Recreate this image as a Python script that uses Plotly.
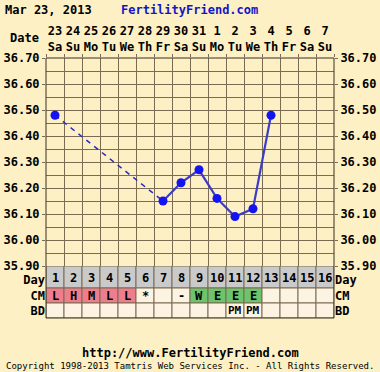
import plotly.graph_objects as go

# ---- data ----
title_date = "Mar 23, 2013"
site_name = "FertilityFriend.com"
cycle_days = list(range(1, 17))
dates = ["23", "24", "25", "26", "27", "28", "29", "30", "31", "1", "2", "3", "4", "5", "6", "7"]
weekdays = ["Sa", "Su", "Mo", "Tu", "We", "Th", "Fr", "Sa", "Su", "Mo", "Tu", "We", "Th", "Fr", "Sa", "Su"]
temp_days = [1, 7, 8, 9, 10, 11, 12, 13]
temps = [36.48, 36.15, 36.22, 36.27, 36.16, 36.09, 36.12, 36.48]
y_ticks = [35.90, 36.00, 36.10, 36.20, 36.30, 36.40, 36.50, 36.60, 36.70]
cm_values = ["L", "H", "M", "L", "L", "*", "", "-", "W", "E", "E", "E", "", "", "", ""]
cm_kind = ["m", "m", "m", "m", "m", "", "", "", "f", "f", "f", "f", "", "", "", ""]
bd_values = ["", "", "", "", "", "", "", "", "", "", "PM", "PM", "", "", "", ""]
row_labels = ["Day", "CM", "BD"]

BG = "#FDF0C4"
GRID = "#7A6B52"
FONT = "DejaVu Sans Mono"
PINK = "#EE7E8E"
GREEN = "#6CC46C"
GRAY = "#CACACA"
CREAM = "#FDF3E2"

fig = go.Figure()

# dashed gap line (day 1 -> day 7)
fig.add_trace(go.Scatter(x=temp_days[:2], y=temps[:2], mode="lines",
                         line=dict(color="#2A2ABF", width=1.5, dash="5px,5px"),
                         xaxis="x", yaxis="y", hoverinfo="skip"))
# solid consecutive line
fig.add_trace(go.Scatter(x=temp_days[1:], y=temps[1:], mode="lines",
                         line=dict(color="#3C3CC8", width=2.2),
                         xaxis="x", yaxis="y"))
# markers
fig.add_trace(go.Scatter(x=temp_days, y=temps, mode="markers",
                         marker=dict(color="#1414F0", size=9),
                         xaxis="x", yaxis="y"))

# ---- table rows (y2 in pixel-like units) ----
rows = {"BD": (0, 15), "CM": (15, 30), "Day": (30, 52)}
shapes = []
annots = []
for i, d in enumerate(cycle_days):
    x0, x1 = d - 0.5, d + 0.5
    shapes.append(dict(type="rect", xref="x2", yref="y2", x0=x0, x1=x1,
                       y0=rows["Day"][0], y1=rows["Day"][1],
                       fillcolor=GRAY, line=dict(color=GRID, width=1), layer="below"))
    annots.append(dict(x=d, y=sum(rows["Day"]) / 2 - 1, xref="x2", yref="y2", text="<b>%d</b>" % d,
                       showarrow=False, font=dict(family=FONT, size=12, color="#000")))
    k = cm_kind[i]
    fill = PINK if k == "m" else (GREEN if k == "f" else CREAM)
    shapes.append(dict(type="rect", xref="x2", yref="y2", x0=x0, x1=x1,
                       y0=rows["CM"][0], y1=rows["CM"][1],
                       fillcolor=fill, line=dict(color=GRID, width=1), layer="below"))
    if cm_values[i]:
        annots.append(dict(x=d, y=sum(rows["CM"]) / 2, xref="x2", yref="y2", text="<b>%s</b>" % cm_values[i],
                           showarrow=False, font=dict(family=FONT, size=12, color="#000")))
    shapes.append(dict(type="rect", xref="x2", yref="y2", x0=x0, x1=x1,
                       y0=rows["BD"][0], y1=rows["BD"][1],
                       fillcolor=CREAM, line=dict(color=GRID, width=1), layer="below"))
    if bd_values[i]:
        annots.append(dict(x=d, y=sum(rows["BD"]) / 2, xref="x2", yref="y2", text="<b>%s</b>" % bd_values[i],
                           showarrow=False, font=dict(family=FONT, size=11, color="#000")))

# header texts (positions in pixels from bottom-left, converted below)
annots.append(dict(x=3, y=362, xref="paper", yref="paper", text="<b>%s</b>" % title_date,
                   showarrow=False, xanchor="left", yanchor="middle",
                   font=dict(family=FONT, size=12, color="#000")))
annots.append(dict(x=189, y=362, xref="paper", yref="paper", text="<b>%s</b>" % site_name,
                   showarrow=False, xanchor="center", yanchor="middle",
                   font=dict(family=FONT, size=12, color="#1414C8")))
annots.append(dict(x=41, y=334, xref="paper", yref="paper", text="<b>Date</b>",
                   showarrow=False, xanchor="right", yanchor="middle",
                   font=dict(family=FONT, size=12, color="#000")))
annots.append(dict(x=190, y=19, xref="paper", yref="paper", text="<b>http://www.FertilityFriend.com</b>",
                   showarrow=False, xanchor="center", yanchor="middle",
                   font=dict(family=FONT, size=12, color="#000")))
annots.append(dict(x=190, y=6, xref="paper", yref="paper",
                   text="Copyright 1998-2013 Tamtris Web Services Inc. - All Rights Reserved.",
                   showarrow=False, xanchor="center", yanchor="middle",
                   font=dict(family=FONT, size=9, color="#000")))

W, H = 380, 372
ML, MR, MT, MB = 46, 46, 58, 54
pw, ph = W - ML - MR, H - MT - MB
for a in annots:
    if a["xref"] == "paper":
        a["x"] = (a["x"] - ML) / pw
        a["y"] = (a["y"] - MB) / ph

shapes.append(dict(type="rect", xref="paper", yref="paper", x0=0, x1=1, y0=0, y1=1,
                   line=dict(color="#3A3020", width=1), fillcolor="rgba(0,0,0,0)"))

table_frac = 52 / ph
tick_font = dict(family=FONT, size=12, color="#000")
ytext = ["<b>%.2f</b>" % v for v in y_ticks]
nomargin = dict(automargin=False)
row_ticks = [38.5, 22.5, 7.5]

fig.update_layout(
    width=W, height=H,
    margin=dict(l=ML, r=MR, t=MT, b=MB, pad=0, autoexpand=False),
    paper_bgcolor=BG, plot_bgcolor=BG,
    showlegend=False,
    shapes=shapes, annotations=annots,
    xaxis=dict(range=[0.5, 16.5], domain=[0, 1], anchor="y", side="top",
               tickvals=[d + 0.5 for d in [0] + cycle_days], showticklabels=False,
               ticks="outside", ticklen=3, tickcolor=GRID,
               showgrid=True, gridcolor=GRID, gridwidth=1, zeroline=False, showline=False, **nomargin),
    xaxis3=dict(range=[0.5, 16.5], overlaying="x", anchor="y", side="top",
                tickvals=cycle_days,
                ticktext=["<b>%s</b><br><b>%s</b>" % (a, b) for a, b in zip(dates, weekdays)],
                tickfont=dict(family=FONT, size=12, color="#000"), ticks="", ticklen=0,
                ticklabelstandoff=4,
                showgrid=False, zeroline=False, showline=False, **nomargin),
    xaxis2=dict(range=[0.5, 16.5], domain=[0, 1], anchor="y2", showticklabels=False,
                showgrid=False, zeroline=False, showline=False, ticks="", **nomargin),
    yaxis=dict(range=[35.90, 36.70], domain=[table_frac, 1], anchor="x",
               tickvals=y_ticks, ticktext=ytext, tickfont=tick_font,
               ticks="outside", ticklen=3, tickcolor=GRID,
               showgrid=True, gridcolor=GRID, gridwidth=1, zeroline=False, showline=False,
               minor=dict(dtick=0.05, tick0=35.9, showgrid=True, gridcolor=GRID, gridwidth=1), **nomargin),
    yaxis3=dict(range=[35.90, 36.70], overlaying="y", side="right", anchor="x",
                tickvals=y_ticks, ticktext=ytext, tickfont=tick_font,
                ticks="outside", ticklen=3, tickcolor=GRID,
                showgrid=False, zeroline=False, showline=False, **nomargin),
    yaxis2=dict(range=[0, 52], domain=[0, table_frac], anchor="x2",
                tickvals=row_ticks, ticktext=["<b>%s</b>" % r for r in row_labels],
                tickfont=tick_font, ticks="", showgrid=False, zeroline=False, showline=False, **nomargin),
    yaxis4=dict(range=[0, 52], overlaying="y2", side="right", anchor="x2",
                tickvals=row_ticks, ticktext=["<b>%s</b>" % r for r in row_labels],
                tickfont=tick_font, ticks="", showgrid=False, zeroline=False, showline=False, **nomargin),
)
fig.add_trace(go.Scatter(x=[None], y=[None], xaxis="x3", yaxis="y3", hoverinfo="skip"))
fig.add_trace(go.Scatter(x=[None], y=[None], xaxis="x2", yaxis="y4", hoverinfo="skip"))

fig.write_html("out.html", config={"displayModeBar": False},
               post_script="document.body.style.margin='0';document.body.style.padding='0';"
                           "document.body.style.background='%s';" % BG)
